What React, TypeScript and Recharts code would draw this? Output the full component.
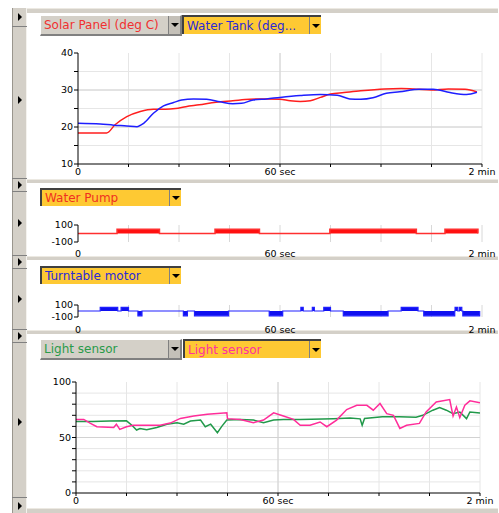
import React from "react";
import { ComposedChart, Line, Area, XAxis, YAxis, CartesianGrid, ReferenceLine } from "recharts";

// ---------- data ----------
const timeTicks = [0, 15, 30, 45, 60, 75, 90, 105, 120];
const timeLabels: Record<number, string> = { 0: "0", 60: "60 sec", 120: "2 min" };

const tempTicks = [10, 15, 20, 25, 30, 35, 40];
const motorTicks = [-100, 100];
const lightTicks = [0, 10, 20, 30, 40, 50, 60, 70, 80, 90, 100];

const solarTimes = [0, 4, 8.5, 11, 14.5, 18.5, 22.4, 26, 29, 32, 36, 41, 46, 51, 56, 60, 63, 66, 69, 72, 75, 79, 84, 91, 96, 101, 105, 110, 115, 118.5];
const solarValues = [18.4, 18.4, 18.4, 20.6, 22.8, 24.2, 24.8, 24.8, 25.0, 25.5, 26.0, 26.7, 27.1, 27.5, 27.6, 27.5, 27.1, 26.9, 27.1, 28.0, 28.9, 29.3, 29.8, 30.3, 30.4, 30.2, 30.0, 30.3, 30.2, 29.5];

const tankTimes = [0, 6.6, 10.6, 14.5, 17.5, 19.5, 22.4, 25.4, 28.4, 30.8, 34.3, 38.2, 42.2, 46, 48.6, 52, 56, 60, 66, 72, 77, 80.7, 84, 87.6, 91.6, 95.5, 101.5, 105.5, 110.5, 115.4, 118.5];
const tankValues = [21.0, 20.8, 20.5, 20.3, 20.1, 21.0, 23.7, 25.7, 26.6, 27.3, 27.6, 27.5, 26.8, 26.3, 26.4, 27.3, 27.6, 28.0, 28.5, 28.8, 28.6, 27.6, 27.5, 27.9, 29.1, 29.5, 30.2, 30.2, 29.3, 28.8, 29.4];

// [start, end, level]
const pumpSegments = [[11.6, 24.2, 50], [40.7, 53.9, 50], [74.8, 100.5, 50], [109, 118.8, 50]];
const pumpEnd = 118.8;
const turntableSegments = [
  [6.6, 11.8, 60], [12.8, 15, 60], [17.8, 19, -80], [31.3, 32.5, -80], [34.6, 44.7, -80],
  [56.8, 60.8, -80], [66.2, 66.9, 60], [69.6, 70.2, 60], [73, 75, 60], [78.8, 92.1, -80],
  [96, 101, 60], [102.7, 111.9, -80], [112, 112.8, 60], [113.3, 114, 60], [114.3, 119.3, -80],
];
const turntableEnd = 119.3;

const greenTimes = [0, 5, 10, 15, 16.6, 18, 19, 21, 24, 27, 30, 32, 34, 37, 38.4, 40, 42, 43.3, 44.8, 48.8, 52.7, 55.7, 58.7, 61.6, 66.6, 76.5, 81.4, 84.4, 85, 85.7, 91, 96, 101, 103, 106, 108, 110, 112, 114, 116, 117, 120];
const greenValues = [64.5, 64.5, 64.8, 65, 61, 56.7, 58, 57, 59, 62, 63.3, 62, 64.8, 65.7, 59.7, 62, 54.3, 60, 65.7, 66.3, 65.7, 63.3, 65.7, 66.3, 66.3, 67, 67.5, 66.8, 61, 67.2, 68.7, 68.7, 68.3, 70, 74.6, 77, 74.6, 71.5, 73, 67, 73, 72];

const pinkTimes = [0, 2.3, 4.3, 6.2, 11.2, 12, 13, 15, 17, 25, 28, 31, 35, 39, 44.8, 45, 48.8, 52.7, 55.7, 58.7, 61.6, 64.6, 66.6, 69.5, 72.5, 74.5, 77.4, 80.4, 83.4, 86.4, 88.3, 90.3, 92.3, 94.3, 96.2, 98.2, 102, 104, 107, 111, 112, 113, 114, 115.5, 117, 120];
const pinkValues = [66.3, 66.3, 62.7, 59.7, 59, 62, 57.3, 59.7, 61, 61, 63, 67.2, 69.3, 71, 72.2, 67, 66.3, 63.3, 65.7, 72.2, 69.3, 66.3, 61, 61, 64, 59.7, 65.7, 75.2, 79, 79, 74.6, 80.6, 71.5, 70, 58.2, 61, 62.7, 73, 82, 84.2, 69.3, 77.5, 68, 79, 83, 81.2];

// ---------- helpers ----------
const pairs = (ts: number[], vs: number[]) => ts.map((t, i) => ({ t, v: vs[i] }));
const stepData = (segs: number[][], end: number) => {
  const out: { t: number; v: number }[] = [{ t: 0, v: 0 }];
  for (const [s, e, v] of segs) {
    out.push({ t: s, v });
    out.push({ t: e, v: 0 });
  }
  if (out[out.length - 1].t < end) out.push({ t: end, v: 0 });
  return out;
};

const solarData = pairs(solarTimes, solarValues);
const tankData = pairs(tankTimes, tankValues);
const pumpData = stepData(pumpSegments, pumpEnd);
const turntableData = stepData(turntableSegments, turntableEnd);
const greenData = pairs(greenTimes, greenValues);
const pinkData = pairs(pinkTimes, pinkValues);

const FONT = "'DejaVu Sans', Verdana, sans-serif";
const tickStyle = { fontSize: 9.5, fontFamily: FONT, fill: "#000" };
const GRID = "#e6e6e6";
const GRID_DARK = "#d2d2d2";
const UI_GRAY = "#d4d0c8";
const YELLOW = "#fec933";

const xAxis = (h: number, showLine = true, margin = 1) => (
  <XAxis
    dataKey="t"
    type="number"
    domain={[0, 120]}
    ticks={timeTicks}
    interval={0}
    allowDataOverflow
    tickFormatter={(v: number) => timeLabels[v] ?? ""}
    tick={tickStyle}
    tickSize={3}
    tickMargin={margin}
    axisLine={showLine ? { stroke: "#000" } : false}
    tickLine={showLine ? { stroke: "#000" } : false}
    height={h}
    stroke={showLine ? "#000" : "none"}
  />
);

const Tri = () => (
  <div
    style={{
      width: 0,
      height: 0,
      borderLeft: "4px solid transparent",
      borderRight: "4px solid transparent",
      borderTop: "4px solid #000",
    }}
  />
);

const Arrow = ({ y }: { y: number }) => (
  <div
    style={{
      position: "absolute",
      left: 18,
      top: y - 4,
      width: 0,
      height: 0,
      borderTop: "4px solid transparent",
      borderBottom: "4px solid transparent",
      borderLeft: "4px solid #000",
    }}
  />
);

type ComboProps = { x: number; y: number; w: number; h: number; text: string; color: string; yellow: boolean };
const Combo = ({ x, y, w, h, text, color, yellow }: ComboProps) => (
  <div
    style={{
      position: "absolute",
      left: x,
      top: y,
      width: w,
      height: h,
      boxSizing: "border-box",
      background: yellow ? YELLOW : UI_GRAY,
      borderLeft: yellow ? "2px solid #404040" : "1px solid #ffffff",
      borderTop: yellow ? "2px solid #404040" : "1px solid #ffffff",
      borderBottom: yellow ? "none" : "2px solid #808080",
      borderRight: yellow ? "none" : "2px solid #808080",
      fontFamily: FONT,
      fontSize: 12,
      color,
      display: "flex",
      alignItems: "center",
    }}
  >
    <div style={{ flex: 1, paddingLeft: 3, whiteSpace: "nowrap", overflow: "hidden" }}>{text}</div>
    <div
      style={{
        width: 12,
        height: "100%",
        boxSizing: "border-box",
        borderLeft: "1px solid #808080",
        background: yellow ? YELLOW : "#c4c0b8",
        display: "flex",
        alignItems: "center",
        justifyContent: "center",
      }}
    >
      <Tri />
    </div>
  </div>
);

const Band = ({ y, h }: { y: number; h: number }) => (
  <div
    style={{
      position: "absolute",
      left: 27,
      top: y,
      width: 471,
      height: h,
      background: UI_GRAY,
      borderTop: "1px solid #ece9e2",
      boxSizing: "border-box",
    }}
  />
);

const StripLine = ({ y }: { y: number }) => (
  <div style={{ position: "absolute", left: 12, top: y, width: 15, height: 1, background: "#808080" }} />
);

export default function App() {
  return (
    <div
      style={{
        position: "absolute",
        left: 0,
        top: 0,
        width: 499,
        height: 513,
        background: "#fff",
        overflow: "hidden",
      }}
    >
      {/* frame */}
      <div
        style={{
          position: "absolute",
          left: 12,
          top: 8,
          width: 15,
          height: 505,
          background: UI_GRAY,
          borderLeft: "1px solid #9a968e",
          borderRight: "1px solid #f4f2ee",
          boxSizing: "border-box",
        }}
      />
      <StripLine y={26} />
      <StripLine y={178} />
      <StripLine y={191} />
      <StripLine y={255} />
      <StripLine y={268} />
      <StripLine y={329} />
      <StripLine y={342} />
      <StripLine y={497} />
      {[17, 100, 185, 223, 262, 299, 336, 422, 506].map((y) => (
        <Arrow key={y} y={y} />
      ))}
      <Band y={8} h={5} />
      <Band y={179} h={4} />
      <Band y={256} h={4} />
      <Band y={330} h={4} />
      <Band y={508} h={5} />

      {/* panel 1 */}
      <Combo x={40} y={15} w={142} h={21} text="Solar Panel (deg C)" color="#f03030" yellow={false} />
      <Combo x={182} y={15} w={139} h={19} text="Water Tank (deg..." color="#2a2ad8" yellow />
      <div style={{ position: "absolute", left: 0, top: 40 }}>
        <ComposedChart width={499} height={140} margin={{ top: 13, right: 17, left: 38, bottom: 0 }}>
          <CartesianGrid stroke={GRID} horizontalValues={[15, 20, 25, 30, 35]} verticalValues={[15, 30, 45, 60, 75, 90, 105, 120]} />
          <ReferenceLine y={20} stroke={GRID_DARK} />
          <ReferenceLine y={30} stroke={GRID_DARK} />
          <ReferenceLine x={60} stroke={GRID_DARK} />
          {xAxis(16)}
          <YAxis
            type="number"
            domain={[10, 40]}
            ticks={tempTicks}
            interval={0}
            tickFormatter={(v: number) => (v % 10 === 0 ? String(v) : "")}
            tick={tickStyle}
            tickSize={4}
            tickMargin={1}
            width={40}
            stroke="#000"
          />
          <Line data={solarData} dataKey="v" type="monotone" stroke="#ff1e1e" strokeWidth={1.5} dot={false} activeDot={false} isAnimationActive={false} />
          <Line data={tankData} dataKey="v" type="monotone" stroke="#1e1eff" strokeWidth={1.5} dot={false} activeDot={false} isAnimationActive={false} />
        </ComposedChart>
      </div>

      {/* panel 2 */}
      <Combo x={40} y={188} w={141} h={18} text="Water Pump" color="#f03020" yellow />
      <div style={{ position: "absolute", left: 0, top: 215 }}>
        <ComposedChart width={499} height={45} margin={{ top: 10, right: 17, left: 38, bottom: 0 }}>
          <CartesianGrid stroke="#d8d8d8" horizontal={false} verticalValues={[15, 30, 45, 60, 75, 90, 105, 120]} />
          {xAxis(18, false, 5)}
          <YAxis type="number" domain={[-100, 100]} ticks={motorTicks} interval={0} tick={tickStyle} tickSize={4} tickMargin={1} width={40} stroke="#000" />
          <Area data={pumpData} dataKey="v" type="stepAfter" baseValue={0} stroke="#ff3030" strokeWidth={1.5} fill="#ff1010" fillOpacity={1} dot={false} activeDot={false} isAnimationActive={false} />
        </ComposedChart>
      </div>

      {/* panel 3 */}
      <Combo x={40} y={266} w={141} h={18} text="Turntable motor" color="#2a2ad8" yellow />
      <div style={{ position: "absolute", left: 0, top: 295 }}>
        <ComposedChart width={499} height={40} margin={{ top: 10, right: 17, left: 38, bottom: 0 }}>
          <CartesianGrid stroke="#d8d8d8" horizontal={false} verticalValues={[15, 30, 45, 60, 75, 90, 105, 120]} />
          {xAxis(18, false, 6)}
          <YAxis type="number" domain={[-100, 100]} ticks={motorTicks} interval={0} tick={tickStyle} tickSize={4} tickMargin={1} width={40} stroke="#000" />
          <Area data={turntableData} dataKey="v" type="stepAfter" baseValue={0} stroke="#2020ff" strokeWidth={1.2} fill="#1010f0" fillOpacity={1} dot={false} activeDot={false} isAnimationActive={false} />
        </ComposedChart>
      </div>

      {/* panel 4 */}
      <Combo x={40} y={339} w={142} h={21} text="Light sensor" color="#2a9a4a" yellow={false} />
      <Combo x={183} y={339} w={138} h={19} text="Light sensor" color="#ff30a0" yellow />
      <div style={{ position: "absolute", left: 0, top: 370 }}>
        <ComposedChart width={499} height={140} margin={{ top: 12, right: 19, left: 36, bottom: 0 }}>
          <CartesianGrid stroke={GRID} horizontalValues={[10, 20, 30, 40, 50, 60, 70, 80, 90]} verticalValues={[15, 30, 45, 60, 75, 90, 105, 120]} />
          <ReferenceLine y={50} stroke={GRID_DARK} />
          <ReferenceLine x={60} stroke={GRID_DARK} />
          {xAxis(17)}
          <YAxis
            type="number"
            domain={[0, 100]}
            ticks={lightTicks}
            interval={0}
            tickFormatter={(v: number) => (v % 50 === 0 ? String(v) : "")}
            tick={tickStyle}
            tickSize={4}
            tickMargin={1}
            width={40}
            stroke="#000"
          />
          <Line data={greenData} dataKey="v" type="linear" stroke="#21994a" strokeWidth={1.5} dot={false} activeDot={false} isAnimationActive={false} />
          <Line data={pinkData} dataKey="v" type="linear" stroke="#ff2d9a" strokeWidth={1.5} dot={false} activeDot={false} isAnimationActive={false} />
        </ComposedChart>
      </div>
    </div>
  );
}
